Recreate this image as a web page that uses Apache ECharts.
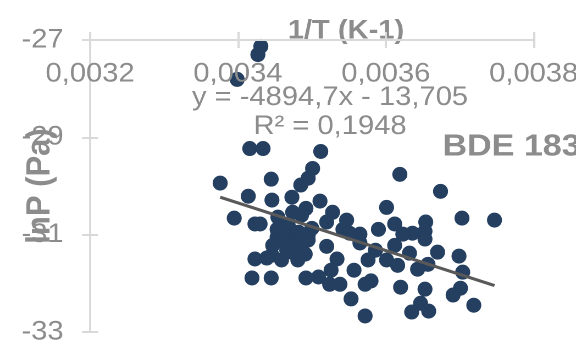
<!DOCTYPE html>
<html>
<head>
<meta charset="utf-8">
<script src="https://cdn.jsdelivr.net/npm/echarts@6/dist/echarts.min.js"></script>
<style>
  html, body { margin: 0; padding: 0; background: #ffffff; overflow: hidden; width: 576px; height: 342px; }
  #chart { width: 524px; height: 342px; transform: scale(1.09924, 1); transform-origin: 0 0; }
</style>
</head>
<body>
<div id="chart"></div>
<script>
// ---- data ----
const xValues = [
  0.003431, 0.003427, 0.003399, 0.003416, 0.003434, 0.003512, 0.003501, 0.003495, 0.003485, 0.003619,
  0.003376, 0.003445, 0.003414, 0.003446, 0.003473, 0.003511, 0.003674, 0.003601, 0.003492, 0.003474,
  0.003528, 0.003486, 0.003454, 0.003395, 0.003423, 0.003430, 0.003547, 0.003520, 0.003468, 0.003453,
  0.003500, 0.003542, 0.003590, 0.003612, 0.003654, 0.003703, 0.003747, 0.003636, 0.003623, 0.003653,
  0.003653, 0.003565, 0.003551, 0.003495, 0.003472, 0.003453, 0.003457, 0.003486, 0.003464, 0.003520,
  0.003565, 0.003612, 0.003586, 0.003473, 0.003491, 0.003632, 0.003670, 0.003699, 0.003446, 0.003423,
  0.003439, 0.003459, 0.003481, 0.003534, 0.003576, 0.003601, 0.003657, 0.003616, 0.003643, 0.003704,
  0.003526, 0.003557, 0.003419, 0.003445, 0.003492, 0.003509, 0.003538, 0.003524, 0.003572, 0.003580,
  0.003620, 0.003653, 0.003701, 0.003691, 0.003553, 0.003647, 0.003719, 0.003572, 0.003635, 0.003658,
  0.003461, 0.003477, 0.003466, 0.003447, 0.003482, 0.003495
];
const yValues = [
  -27.13, -27.30, -27.81, -29.23, -29.23, -29.29, -29.64, -29.84, -29.98, -29.76,
  -29.94, -29.86, -30.21, -30.29, -30.23, -30.31, -30.11, -30.44, -30.46, -30.54,
  -30.54, -30.60, -30.64, -30.66, -30.78, -30.78, -30.70, -30.74, -30.81, -30.89,
  -30.87, -30.89, -30.89, -30.78, -30.74, -30.66, -30.70, -30.97, -30.99, -30.93,
  -31.09, -30.99, -30.97, -31.01, -31.03, -31.05, -31.13, -31.11, -31.17, -31.24,
  -31.17, -31.22, -31.32, -31.36, -31.40, -31.38, -31.36, -31.44, -31.42, -31.50,
  -31.48, -31.52, -31.52, -31.50, -31.52, -31.52, -31.61, -31.63, -31.71, -31.77,
  -31.73, -31.73, -31.89, -31.89, -31.89, -31.87, -32.02, -32.02, -32.02, -31.95,
  -32.08, -32.12, -32.10, -32.24, -32.32, -32.41, -32.45, -32.67, -32.59, -32.57,
  -30.95, -31.22, -31.32, -31.22, -30.95, -31.11
];
const trendCoefficients = [-4894.7, -13.705]; // slope, intercept
const rSquared = [0.1948];
const xTicks = [0.0032, 0.0034, 0.0036, 0.0038];
const xTickLabels = ['0,0032', '0,0034', '0,0036', '0,0038'];
const yTicks = [-33, -31, -29, -27];
const yTickLabels = ['-33', '-31', '-29', '-27'];
const chartTitle = 'BDE 183';
const xTitle = '1/T (K-1)';
const yTitle = 'lnP (Pa)';

// ---- build ----
const FONT = '"Liberation Sans", Arial, Helvetica, sans-serif';
const GRAY = '#8c8c8c';
const AXIS = '#d9d9d9';
const SX = 1.09924; // horizontal stretch of the page (see CSS)
const fmt = n => String(n).replace('.', ',');

const points = xValues.map((x, i) => [x, yValues[i]]);
const xMinData = Math.min(...xValues);
const xMaxData = Math.max(...xValues);
const trend = [xMinData, xMaxData].map(x => [x, trendCoefficients[0] * x + trendCoefficients[1]]);
const eqText = 'y = ' + fmt(trendCoefficients[0]) + 'x ' + (trendCoefficients[1] < 0 ? '- ' : '+ ') +
  fmt(Math.abs(trendCoefficients[1])) + '\nR² = ' + fmt(rSquared[0]);

const labelFor = (ticks, labels) => v => {
  let best = 0;
  for (let i = 1; i < ticks.length; i++) if (Math.abs(ticks[i] - v) < Math.abs(ticks[best] - v)) best = i;
  return labels[best];
};

const chart = echarts.init(document.getElementById('chart'), null, { renderer: 'canvas', devicePixelRatio: 2 });
chart.setOption({
  animation: false,
  backgroundColor: '#ffffff',
  title: {
    text: chartTitle,
    left: 402.5, top: 131.5, padding: 0,
    textStyle: { fontFamily: FONT, fontSize: 31, fontWeight: 'bold', color: GRAY, lineHeight: 31 }
  },
  grid: { left: 81.9, right: 38.5, top: 40, bottom: 10, containLabel: false, outerBoundsMode: 'none' },
  xAxis: [
    {
      type: 'value', position: 'top', min: 0.0032, max: 0.0038, z: 10,
      name: xTitle, nameLocation: 'middle', nameGap: -4, nameMoveOverlap: false,
      nameTextStyle: { fontFamily: FONT, fontSize: 26.5, fontWeight: 'bold', color: GRAY, lineHeight: 26, padding: [0, 0, 0, 62] },
      axisLine: { show: true, onZero: false, lineStyle: { color: AXIS, width: 2 } },
      axisTick: { show: true, inside: false, length: 8, customValues: xTicks, lineStyle: { color: AXIS, width: 2 } },
      axisLabel: { inside: true, margin: 20, customValues: xTicks, formatter: labelFor(xTicks, xTickLabels),
        fontFamily: FONT, fontSize: 26.5, lineHeight: 28, color: GRAY },
      splitLine: { show: false }
    },
    {
      type: 'value', position: 'top', min: 0.0032, max: 0.0038, z: 10,
      axisLine: { show: false },
      axisTick: { show: true, inside: true, length: 8, customValues: xTicks, lineStyle: { color: AXIS, width: 2 } },
      axisLabel: { show: false },
      splitLine: { show: false }
    }
  ],
  yAxis: [
    {
      type: 'value', position: 'left', min: -33, max: -27, z: 10,
      name: yTitle, nameLocation: 'middle', nameRotate: 90, nameGap: 30, nameMoveOverlap: false,
      nameTextStyle: { fontFamily: FONT, fontSize: 31, fontWeight: 'bold', color: GRAY, lineHeight: 31 },
      axisLine: { show: true, onZero: false, lineStyle: { color: AXIS, width: 2 / SX } },
      axisTick: { show: true, inside: false, length: 8 / SX, customValues: yTicks, lineStyle: { color: AXIS, width: 2 } },
      axisLabel: { margin: 24, customValues: yTicks, formatter: labelFor(yTicks, yTickLabels),
        fontFamily: FONT, fontSize: 26.5, lineHeight: 28, color: GRAY },
      splitLine: { show: false }
    },
    {
      type: 'value', position: 'left', min: -33, max: -27, z: 10,
      axisLine: { show: false },
      axisTick: { show: true, inside: true, length: 8 / SX, customValues: yTicks, lineStyle: { color: AXIS, width: 2 } },
      axisLabel: { show: false },
      splitLine: { show: false }
    }
  ],
  graphic: [
    {
      type: 'text', x: 330 / SX, y: 83, z: 100, silent: true,
      style: { text: eqText, fontFamily: FONT, fontSize: 26.5, lineHeight: 29, fill: GRAY, align: 'center', verticalAlign: 'top' }
    }
  ],
  series: [
    {
      type: 'scatter', data: points, xAxisIndex: 0, yAxisIndex: 0, z: 2,
      symbol: 'circle', symbolSize: [15 / SX, 15],
      itemStyle: { color: '#243f60', opacity: 1 }
    },
    {
      type: 'line', data: trend, xAxisIndex: 0, yAxisIndex: 0, z: 3,
      symbol: 'none', lineStyle: { color: '#595959', width: 3 }
    }
  ]
});
</script>
</body>
</html>
